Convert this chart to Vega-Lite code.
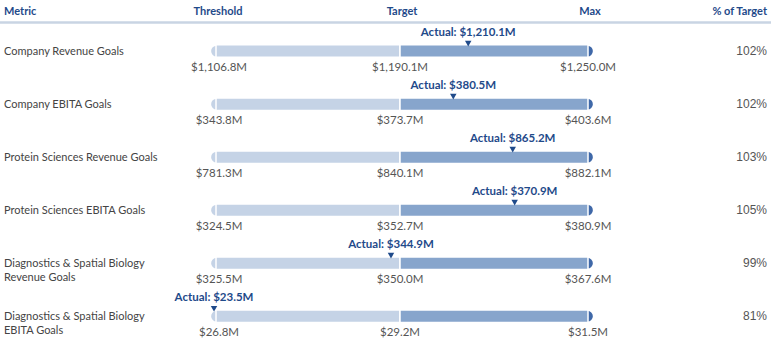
{
  "$schema": "https://vega.github.io/schema/vega-lite/v6.json",
  "width": 771,
  "height": 344,
  "padding": 0,
  "autosize": "none",
  "background": "white",
  "view": {"stroke": null},
  "config": {"font": "Lato"},
  "datasets": {
    "rows": [
      {"row": 1, "metric": "Company Revenue Goals", "threshold": "$1,106.8M", "target": "$1,190.1M", "max": "$1,250.0M", "actual": "Actual: $1,210.1M", "progress": 1.363, "pct": "102%"},
      {"row": 2, "metric": "Company EBITA Goals", "threshold": "$343.8M", "target": "$373.7M", "max": "$403.6M", "actual": "Actual: $380.5M", "progress": 1.2835, "pct": "102%"},
      {"row": 3, "metric": "Protein Sciences Revenue Goals", "threshold": "$781.3M", "target": "$840.1M", "max": "$882.1M", "actual": "Actual: $865.2M", "progress": 1.5995, "pct": "103%"},
      {"row": 4, "metric": "Protein Sciences EBITA Goals", "threshold": "$324.5M", "target": "$352.7M", "max": "$380.9M", "actual": "Actual: $370.9M", "progress": 1.61, "pct": "105%"},
      {"row": 5, "metric": "Diagnostics & Spatial Biology\nRevenue Goals", "threshold": "$325.5M", "target": "$350.0M", "max": "$367.6M", "actual": "Actual: $344.9M", "progress": 0.951, "pct": "99%"},
      {"row": 6, "metric": "Diagnostics & Spatial Biology\nEBITA Goals", "threshold": "$26.8M", "target": "$29.2M", "max": "$31.5M", "actual": "Actual: $23.5M", "progress": -0.0094, "pct": "81%"}
    ]
  },
  "layer": [
    {
      "data": {"values": [{"h": 1}]},
      "mark": {"type": "rule", "color": "#c9d4e3", "strokeWidth": 2.5},
      "encoding": {
        "y": {"datum": 0.46, "type": "quantitative", "scale": {"domain": [0.13, 6.4304], "range": [0, 344], "nice": false, "zero": false}, "axis": null}
      }
    },
    {
      "data": {"values": [{"h": "Metric", "p": -1}]},
      "mark": {"type": "text", "align": "left", "baseline": "middle", "fontWeight": "bold", "fontSize": 11, "color": "#1f4a8a"},
      "encoding": {
        "x": {"field": "p", "type": "quantitative", "scale": {"domain": [-1, 0, 1, 2, 3], "range": [4, 216, 400, 588, 767], "nice": false, "zero": false}, "axis": null},
        "y": {"datum": 0.258, "type": "quantitative"},
        "text": {"field": "h"}
      }
    },
    {
      "data": {"values": [{"h": "Threshold", "p": 0}, {"h": "Target", "p": 1}, {"h": "Max", "p": 2}]},
      "mark": {"type": "text", "align": "center", "baseline": "middle", "fontWeight": "bold", "fontSize": 11, "color": "#1f4a8a", "dx": 2},
      "encoding": {
        "x": {"field": "p", "type": "quantitative"},
        "y": {"datum": 0.258, "type": "quantitative"},
        "text": {"field": "h"}
      }
    },
    {
      "data": {"values": [{"h": "% of Target", "p": 3}]},
      "mark": {"type": "text", "align": "right", "baseline": "middle", "fontWeight": "bold", "fontSize": 11, "color": "#1f4a8a"},
      "encoding": {
        "x": {"field": "p", "type": "quantitative"},
        "y": {"datum": 0.258, "type": "quantitative"},
        "text": {"field": "h"}
      }
    },
    {
      "data": {"name": "rows"},
      "mark": {"type": "text", "align": "left", "baseline": "middle", "fontSize": 11, "color": "#444444", "lineBreak": "\n", "lineHeight": 14, "dy": 1},
      "encoding": {
        "x": {"datum": -1, "type": "quantitative"},
        "y": {"field": "row", "type": "quantitative"},
        "text": {"field": "metric"}
      }
    },
    {
      "data": {"name": "rows"},
      "mark": {"type": "text", "align": "right", "baseline": "middle", "fontSize": 12, "font": "Liberation Sans", "color": "#555555"},
      "encoding": {
        "x": {"datum": 3, "type": "quantitative"},
        "y": {"field": "row", "type": "quantitative"},
        "text": {"field": "pct"}
      }
    },
    {
      "data": {"name": "rows"},
      "mark": {"type": "circle", "size": 115, "opacity": 1, "color": "#c5d3e6", "xOffset": 0.5},
      "encoding": {
        "x": {"datum": 0, "type": "quantitative"},
        "y": {"field": "row", "type": "quantitative"}
      }
    },
    {
      "data": {"name": "rows"},
      "mark": {"type": "circle", "size": 115, "opacity": 1, "color": "#3f68a8", "xOffset": -0.5},
      "encoding": {
        "x": {"datum": 2, "type": "quantitative"},
        "y": {"field": "row", "type": "quantitative"}
      }
    },
    {
      "data": {"name": "rows"},
      "mark": {"type": "bar", "height": 12.5, "color": "#c5d3e6", "stroke": "white", "strokeWidth": 1.5},
      "encoding": {
        "x": {"datum": 0, "type": "quantitative"},
        "x2": {"datum": 1},
        "y": {"field": "row", "type": "quantitative"}
      }
    },
    {
      "data": {"name": "rows"},
      "mark": {"type": "bar", "height": 12.5, "color": "#87a5cc", "stroke": "white", "strokeWidth": 1.5},
      "encoding": {
        "x": {"datum": 1, "type": "quantitative"},
        "x2": {"datum": 2},
        "y": {"field": "row", "type": "quantitative"}
      }
    },
    {
      "data": {"name": "rows"},
      "mark": {"type": "text", "align": "center", "baseline": "middle", "fontSize": 11.5, "color": "#555555", "dy": 16.5, "dx": 3},
      "encoding": {
        "x": {"datum": 0, "type": "quantitative"},
        "y": {"field": "row", "type": "quantitative"},
        "text": {"field": "threshold"}
      }
    },
    {
      "data": {"name": "rows"},
      "mark": {"type": "text", "align": "center", "baseline": "middle", "fontSize": 11.5, "color": "#555555", "dy": 16.5},
      "encoding": {
        "x": {"datum": 1, "type": "quantitative"},
        "y": {"field": "row", "type": "quantitative"},
        "text": {"field": "target"}
      }
    },
    {
      "data": {"name": "rows"},
      "mark": {"type": "text", "align": "center", "baseline": "middle", "fontSize": 11.5, "color": "#555555", "dy": 16.5},
      "encoding": {
        "x": {"datum": 2, "type": "quantitative"},
        "y": {"field": "row", "type": "quantitative"},
        "text": {"field": "max"}
      }
    },
    {
      "data": {"name": "rows"},
      "mark": {"type": "point", "shape": "triangle-down", "filled": true, "size": 42, "opacity": 1, "color": "#1f4a8a", "yOffset": -7.5},
      "encoding": {
        "x": {"field": "progress", "type": "quantitative"},
        "y": {"field": "row", "type": "quantitative"}
      }
    },
    {
      "data": {"name": "rows"},
      "mark": {"type": "text", "align": "center", "baseline": "middle", "fontSize": 11.5, "fontWeight": "bold", "color": "#1f4a8a", "dy": -18.5},
      "encoding": {
        "x": {"field": "progress", "type": "quantitative"},
        "y": {"field": "row", "type": "quantitative"},
        "text": {"field": "actual"}
      }
    }
  ]
}
